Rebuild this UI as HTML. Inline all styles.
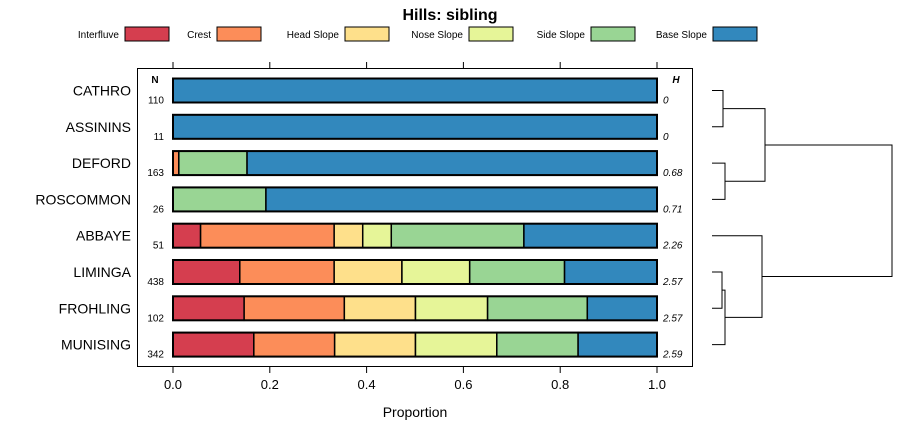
<!DOCTYPE html>
<html><head><meta charset="utf-8"><style>
body{margin:0;background:#fff;font-family:"Liberation Sans",sans-serif}
</style></head><body>
<svg id="c" width="900" height="440" xmlns="http://www.w3.org/2000/svg" font-family="Liberation Sans, sans-serif"></svg>
<script>
const rows=["CATHRO","ASSININS","DEFORD","ROSCOMMON","ABBAYE","LIMINGA","FROHLING","MUNISING"];
const nVals=["110","11","163","26","51","438","102","342"];
const hVals=["0","0","0.68","0.71","2.26","2.57","2.57","2.59"];
const classes=["Interfluve","Crest","Head Slope","Nose Slope","Side Slope","Base Slope"];
const colors=["#D53E4F","#FC8D59","#FEE08B","#E6F598","#99D594","#3288BD"];
const interfluve=[0,0,0,0,0.057,0.138,0.147,0.167];
const crest=[0,0,0.012,0,0.276,0.195,0.207,0.167];
const headSlope=[0,0,0,0,0.059,0.140,0.147,0.167];
const noseSlope=[0,0,0,0,0.059,0.140,0.149,0.168];
const sideSlope=[0,0,0.141,0.192,0.274,0.196,0.206,0.168];
const baseSlope=[1,1,0.847,0.808,0.275,0.191,0.144,0.163];
const ticks=[0,0.2,0.4,0.6,0.8,1.0];
const series=[interfluve,crest,headSlope,noseSlope,sideSlope,baseSlope];
const svg=document.getElementById('c');const NS="http://www.w3.org/2000/svg";
function el(t,a,txt){const e=document.createElementNS(NS,t);for(const k in a)e.setAttribute(k,a[k]);if(txt!==undefined)e.textContent=txt;svg.appendChild(e);return e;}
const X=v=>173+v*484;const Y=i=>90.5+i*36.3;
let e;
e=el('text',{x:450,y:20,'text-anchor':'middle','font-size':16,'font-weight':'bold'},'Hills: sibling');


const legX=[125,217,345,469,591,713];
classes.forEach((c,k)=>{
 e=el('text',{x:legX[k]-6,y:38,'text-anchor':'end','font-size':10},c);
 
 
 e=el('rect',{x:legX[k],y:27,width:44,height:14,fill:colors[k],stroke:'#000'});
 
 
});
e=el('rect',{x:137.5,y:68.5,width:555,height:298,fill:'none',stroke:'#000'});


ticks.forEach(t=>{
 e=el('line',{x1:X(t),x2:X(t),y1:62,y2:68,stroke:'#000'});
 
 
 e=el('line',{x1:X(t),x2:X(t),y1:367,y2:373,stroke:'#000'});
 
 
 e=el('text',{x:X(t),y:389,'text-anchor':'middle','font-size':13},t.toFixed(1));
 
 
});
e=el('text',{x:415,y:417,'text-anchor':'middle','font-size':14},'Proportion');


e=el('text',{x:155,y:83,'text-anchor':'middle','font-size':10,'font-weight':'bold'},'N');


e=el('text',{x:676,y:83,'text-anchor':'middle','font-size':10,'font-weight':'bold','font-style':'italic'},'H');


rows.forEach((r,i)=>{
 const y=Y(i);
 e=el('text',{x:131,y:y+5,'text-anchor':'end','font-size':14},r);
 
 
 e=el('text',{x:164,y:y+13,'text-anchor':'end','font-size':10},nVals[i]);
 
 
 e=el('text',{x:663,y:y+13,'font-size':10,'font-style':'italic'},hVals[i]);
 
 
 let cum=0;
 series.forEach((s,k)=>{
  const v=s[i];if(v<=0)return;
  e=el('rect',{x:X(cum),y:y-12,width:v*484,height:24,fill:colors[k],stroke:'#000','stroke-width':1.5});
  
  
  cum+=v;
 });
 e=el('rect',{x:X(0),y:y-12,width:484,height:24,fill:'none',stroke:'#000','stroke-width':2});
 
 
});
const merges=[[Y(0),Y(1),723,712,712],[Y(2),Y(3),725,712,712],[(Y(0)+Y(1))/2,(Y(2)+Y(3))/2,765,723,725],
[Y(5),Y(6),722,712,712],[(Y(5)+Y(6))/2,Y(7),725,722,712],[Y(4),(((Y(5)+Y(6))/2)+Y(7))/2,762,712,725],
[((Y(0)+Y(1))/2+(Y(2)+Y(3))/2)/2,(Y(4)+(((Y(5)+Y(6))/2)+Y(7))/2)/2,892,765,762]];
merges.forEach(m=>{
 e=el('path',{d:`M${m[3]},${m[0]}H${m[2]}V${m[1]}H${m[4]}`,fill:'none',stroke:'#000'});
 
 
});
</script>
</body></html>
